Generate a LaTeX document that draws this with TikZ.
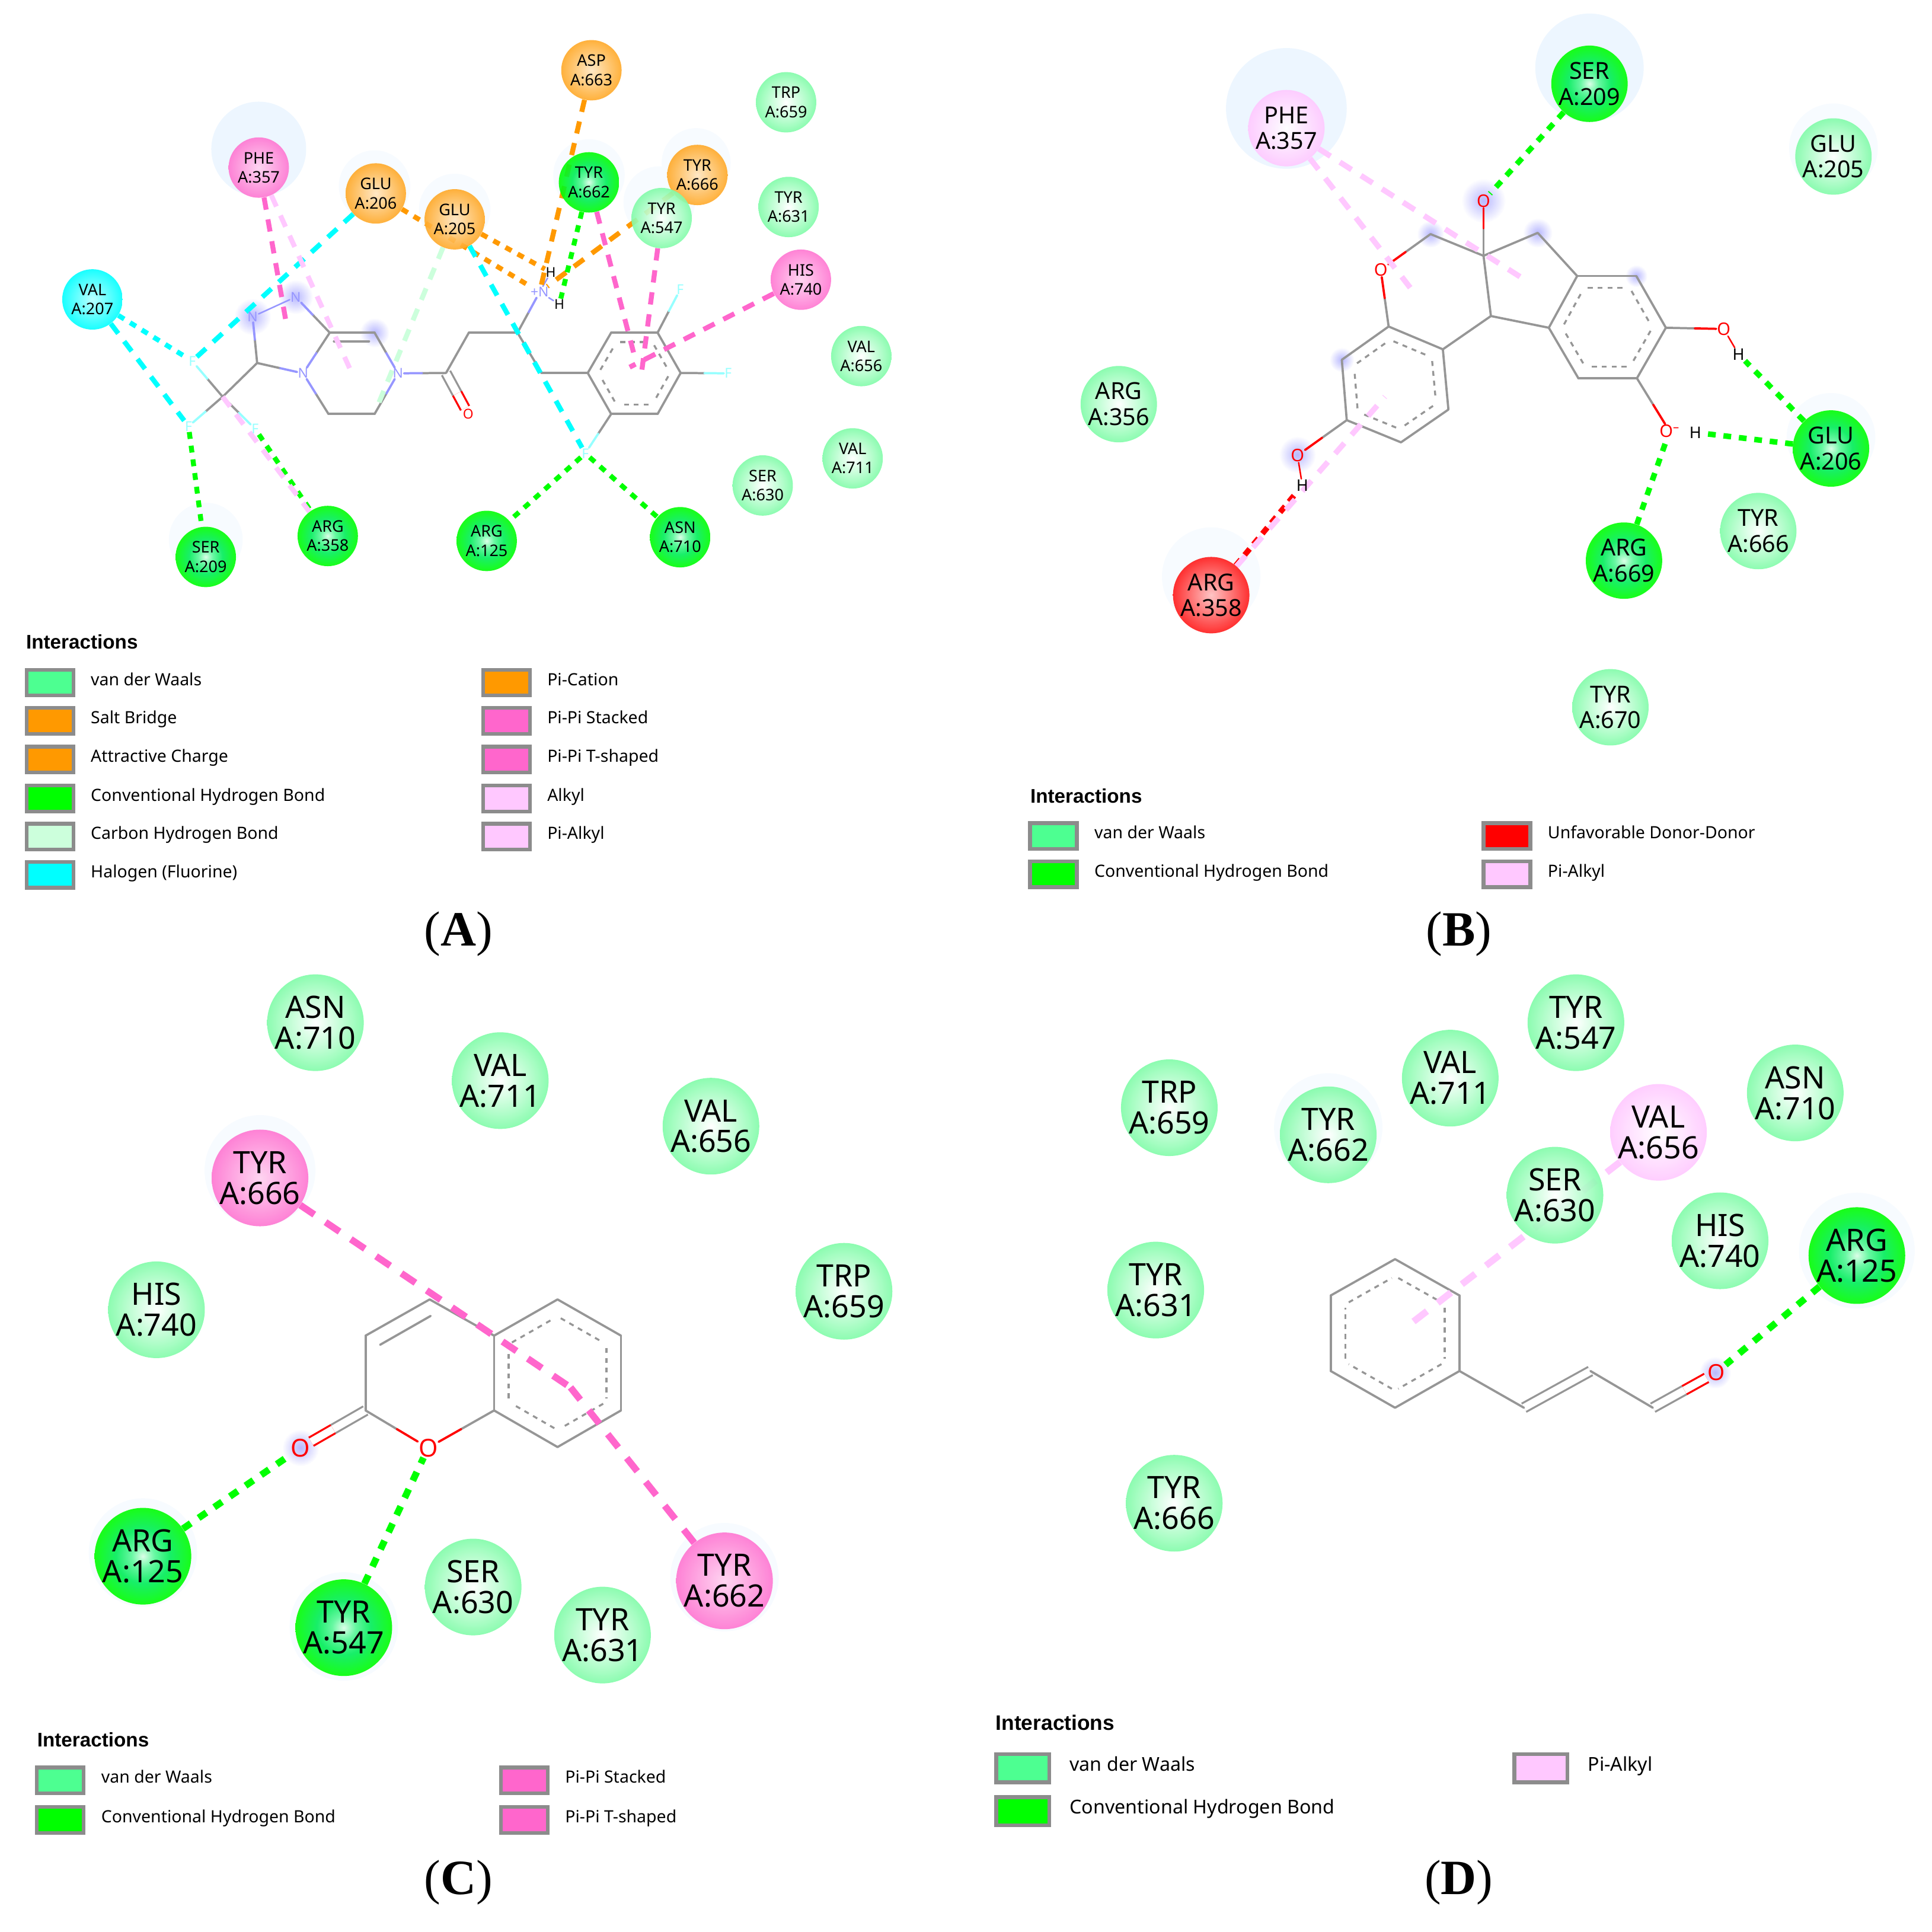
\documentclass[tikz,border=0pt]{standalone}
\usepackage{fontspec}
\setmainfont{Noto Sans}
\newfontfamily\capfont{Liberation Serif}
\newfontfamily\titlefont{Liberation Sans}
\usetikzlibrary{calc,positioning}
\definecolor{vdw_green}{RGB}{128,252,168}
\definecolor{leg_green}{RGB}{77,255,145}
\definecolor{chb_green}{RGB}{204,255,220}
\definecolor{alk_pink}{RGB}{255,200,255}
\definecolor{pi_pink}{RGB}{255,102,204}
\definecolor{sb_orange}{RGB}{255,153,0}
\definecolor{hal_cyan}{RGB}{0,255,255}
\definecolor{n_blue}{RGB}{150,150,255}
\definecolor{f_cyan}{RGB}{150,255,255}
\definecolor{bond_gray}{RGB}{150,150,150}
\pgfdeclareradialshading{green_ball}{\pgfpoint{0bp}{0bp}}{%
  rgb(0bp)=(.85,1,.9); rgb(6bp)=(.35,.97,.6); rgb(14bp)=(0,.93,.35); rgb(25bp)=(0,1,0); rgb(50bp)=(0,1,0)}
\pgfdeclarelayer{back}
\pgfdeclarelayer{lines}
\pgfsetlayers{back,lines,main}

\begin{document}
\begin{tikzpicture}[
      x=1pt,y=-1pt,
      res/.style={
         circle,
         fill opacity=0.9,
         text opacity=1,
         inner sep=0pt,
         align=center},
      resA/.style={res,minimum size=49pt,font=\fontsize{13}{15.5}\selectfont},
      resB/.style={res,minimum size=62pt,font=\fontsize{19}{21}\selectfont},
      resC/.style={res,minimum size=78pt,font=\fontsize{25}{25}\selectfont},
      vdw/.style={inner color=white,outer color=vdw_green},
      green_res/.style={shade,shading=green_ball},
      pink_res/.style={inner color=white!70!pi_pink,outer color=pi_pink!90!white},
      alk_res/.style={inner color=white,outer color=alk_pink},
      orange_res/.style={inner color=white!75!sb_orange,outer color=sb_orange!85!white},
      cyan_res/.style={inner color=white!70!hal_cyan,outer color=hal_cyan},
      red_res/.style={inner color=white!75!red,outer color=red!90!white},
      atom/.style={inner sep=0.5pt,font=\fontsize{#1}{#1}\selectfont},
      halo/.style={circle,fill=blue!50!cyan!7!white},
      haloF/.style={circle,fill=blue!50!cyan!3!white},
      glow/.style={circle,inner color=blue!28!white,outer color=white},
      bond/.style={draw=bond_gray,line width=1.8pt,line cap=round},
      aro/.style={draw=bond_gray,line width=1.6pt,dash pattern=on 4pt off 4pt,
        shorten <=3pt,shorten >=3pt},
      dbl/.style={double=white,double distance=6pt,line width=1.6pt,line cap=butt},
      hb/.style={draw=green,line width=#1pt,dash pattern=on #1*1.4pt off #1*1.4pt},
      unf/.style={draw=red,line width=#1pt,dash pattern=on #1*1.4pt off #1*1.1pt},
      alk/.style={draw=alk_pink,line width=#1pt,dash pattern=on #1*2.5pt off #1*2pt},
      chb/.style={draw=chb_green,line width=#1pt,dash pattern=on #1*2.5pt off #1*2pt},
      pipi/.style={draw=pi_pink,line width=#1pt,dash pattern=on #1*2.5pt off #1*2pt},
      salt/.style={draw=sb_orange,line width=#1pt,dash pattern=on #1*1.4pt off #1*1.4pt},
      picat/.style={draw=sb_orange,line width=#1pt,dash pattern=on #1*2.5pt off #1*2pt},
      hal/.style={draw=hal_cyan,line width=#1pt,dash pattern=on #1*2.5pt off #1*2pt},
      halS/.style={draw=hal_cyan,line width=#1pt,dash pattern=on #1*1.4pt off #1*1.4pt},
      leg_box/.style={rectangle,draw=gray!90,line width=3pt,inner sep=0pt,
        minimum width=38pt,minimum height=21pt},
      leg_boxD/.style={leg_box,minimum width=43pt,minimum height=23pt},
      leg_txt/.style={inner sep=0pt,text height=1.5ex,text depth=.5ex,yshift=0.5pt,
        font=\fontsize{#1}{#1}\selectfont},
      leg_title/.style={anchor=west,inner sep=0pt,font=\titlefont\fontsize{#1}{#1}\selectfont\bfseries},
      caption/.style={font=\fontsize{40}{40}\selectfont\capfont},
      ]
      \useasboundingbox (0,0) rectangle (1568,1568);

      % residues, panel A
      \foreach \n/\r/\x/\y/\s in {%
        663/ASP/480/57/orange_res, 659/TRP/638/83/vdw, 666/TYR/566/142/orange_res,
        662/TYR/478/148/green_res, 357/PHE/210/136/pink_res, 206/GLU/305/157/orange_res,
        205/GLU/369/178/orange_res, 547/TYR/537/177/vdw, 631/TYR/640/168/vdw,
        207/VAL/75/243/cyan_res, 740/HIS/650/227/pink_res, 656/VAL/699/289/vdw,
        711/VAL/692/372/vdw, 630/SER/619/394/vdw, 209/SER/167/452/green_res,
        358/ARG/266/435/green_res, 125/ARG/395/439/green_res, 710/ASN/552/436/green_res}
        \node[resA,\s] (a\n) at (\x,\y) {\r\\A:\n};
      % residues, panel B
      \foreach \n/\r/\x/\y/\s in {%
        357/PHE/1044/104/alk_res, 209/SER/1290/68/green_res, 205/GLU/1488/127/vdw,
        356/ARG/908/328/vdw, 206/GLU/1486/364/green_res, 666/TYR/1427/431/vdw,
        669/ARG/1318/455/green_res, 358/ARG/983/483/red_res, 670/TYR/1307/574/vdw}
        \node[resB,\s] (b\n) at (\x,\y) {\r\\A:\n};
      % residues, panel C
      \foreach \n/\r/\x/\y/\s in {%
        710/ASN/256/830/vdw, 711/VAL/406/877/vdw, 656/VAL/577/914/vdw,
        666/TYR/211/956/pink_res, 659/TRP/685/1048/vdw, 740/HIS/127/1063/vdw,
        125/ARG/116/1263/green_res, 547/TYR/279/1321/green_res, 630/SER/384/1288/vdw,
        631/TYR/489/1327/vdw, 662/TYR/588/1283/pink_res}
        \node[resC,\s] (c\n) at (\x,\y) {\r\\A:\n};
      % residues, panel D
      \foreach \n/\r/\x/\y/\s in {%
        547/TYR/1279/830/vdw, 711/VAL/1177/875/vdw, 659/TRP/949/899/vdw,
        662/TYR/1078/921/vdw, 710/ASN/1457/887/vdw, 656/VAL/1346/919/alk_res,
        630/SER/1262/970/vdw, 740/HIS/1396/1007/vdw, 125/ARG/1507/1019/green_res,
        631/TYR/938/1047/vdw, 666/TYR/953/1220/vdw}
        \node[resC,\s] (d\n) at (\x,\y) {\r\\A:\n};

      % molecule points
      \foreach \n/\x/\y in {%
        aC1/208.7/294.6, aC2/267.6/270, aC3/304/270, aC4/304/336, aC5/266.6/336,
        aC6/180.7/322, aC7/362/302.7, aC8/380.5/270, aC9/420/270, aC10/439.5/302.7,
        aD1/271/277, aD2/299.5/277,
        aR0/515/303, aR1/477/302.7, aR2/496/270, aR3/533.7/270, aR4/552.4/302.7, aR5/533.7/336, aR6/496/336,
        aP1/233/266, aP2/287/306, aP3/307/328, aP4/516/293, aP5/521/300, aP6/511/298,
        bC1/1204/207.6, bC2/1161/190, bC3/1210/256.5, bC4/1248/189,
        bL0/1132/312, bL1/1127/265, bL2/1171/283.5, bL3/1175.5/332.4, bL4/1137/359, bL5/1093/341, bL6/1089/292,
        bR0/1304.5/265.5, bR1/1280/224, bR2/1328/224, bR3/1352/266, bR4/1328.5/307, bR5/1281/307, bR6/1257/266,
        bP1/1239/228, bP2/1148/238, bP3/1124/322,
        cC1/348.7/1054.6, cC2/296.7/1084, cC3/296.7/1144.7, cD1/349.5/1068, cD2/308.5/1091.4,
        cR0/452.5/1114.5, cR1/401/1084, cR2/452.5/1054.6, cR3/504/1084, cR4/504/1144.7, cR5/452.5/1174.4, cR6/401/1144.7,
        cP1/463/1126,
        dR0/1132.2/1082, dR1/1132.2/1021.9, dR2/1184.5/1051.4, dR3/1184.5/1112.7, dR4/1132.2/1142.5, dR5/1080/1112.7, dR6/1080/1051.4,
        dC1/1236.8/1142.5, dC2/1290.8/1112.7, dC3/1341.4/1142.5, dP1/1144/1075}
        \coordinate (\n) at (\x,\y);

      % hetero atoms
      \foreach \n/\x/\y/\t/\c/\f in {%
        aNa/240/241/N/n_blue/11, aNb/205/257/N/n_blue/11, aNc/246/303/N/n_blue/11,
        aNd/323/303/N/n_blue/11, aN/438/237/+N/n_blue/11,
        aFa/156/293/F/f_cyan/11, aFb/153/346/F/f_cyan/11, aFc/207/348/F/f_cyan/11,
        aFd/552/235/F/f_cyan/11, aFe/591/303/F/f_cyan/11, aFf/475/368/F/f_cyan/11,
        aO/380/336/O/red/11, aHa/447/221/H/black/11, aHb/454/247/H/black/11,
        bOa/1204/163/O/red/14, bOb/1120.6/219/O/red/14, bOc/1399/267/O/red/14,
        bOd/1355/350/O\textsuperscript{--}/red/14, bOe/1053/369.6/O/red/14,
        bHa/1411/287.5/H/black/13, bHb/1376/351/H/black/13, bHc/1057/394/H/black/13,
        cOa/244/1175/O/red/20, cOb/347.5/1175/O/red/20,
        dO/1392.7/1114/O/red/18}
        \node[atom=\f,text=\c] (\n) at (\x,\y) {\t};

      % legends
      \node[leg_title=16] (aTitle) at (21,521) {Interactions};
      \node[leg_title=16] (bTitle) at (836,646) {Interactions};
      \node[leg_title=16] (cTitle) at (30,1412) {Interactions};
      \node[leg_title=17] (dTitle) at (808,1398) {Interactions};
      \foreach \n/\x/\y/\c/\t in {%
        a1/40.5/554/leg_green/van der Waals, a2/40.5/585/sb_orange/Salt Bridge,
        a3/40.5/616.5/sb_orange/Attractive Charge, a4/40.5/648/green/Conventional Hydrogen Bond,
        a5/40.5/679/chb_green/Carbon Hydrogen Bond, a6/40.5/710/hal_cyan/Halogen (Fluorine),
        a7/411/554/sb_orange/Pi-Cation, a8/411/585/pi_pink/Pi-Pi Stacked,
        a9/411/616.5/pi_pink/Pi-Pi T-shaped, a10/411/648/alk_pink/Alkyl, a11/411/679/alk_pink/Pi-Alkyl,
        b1/855/678.5/leg_green/van der Waals, b2/855/709.5/green/Conventional Hydrogen Bond,
        b3/1223/678.5/red/Unfavorable Donor-Donor, b4/1223/709.5/alk_pink/Pi-Alkyl,
        c1/49/1445/leg_green/van der Waals, c2/49/1477/green/Conventional Hydrogen Bond,
        c3/425.5/1445/pi_pink/Pi-Pi Stacked, c4/425.5/1477/pi_pink/Pi-Pi T-shaped}
        {\node[leg_box,fill=\c] (box\n) at (\x,\y) {};
         \node[leg_txt=13.7,right=12.5pt of box\n] (txt\n) {\t};}
      \foreach \n/\x/\y/\c/\t in {%
        d1/830/1435/leg_green/van der Waals, d2/830/1470/green/Conventional Hydrogen Bond,
        d3/1250.5/1435/alk_pink/Pi-Alkyl}
        {\node[leg_boxD,fill=\c] (box\n) at (\x,\y) {};
         \node[leg_txt=15.5,right=15pt of box\n] (txt\n) {\t};}

      % captions
      \node[caption] (capA) at (372,758) {(\textbf{A})};
      \node[caption] (capB) at (1184,758) {(\textbf{B})};
      \node[caption] (capC) at (372,1528) {(\textbf{C})};
      \node[caption] (capD) at (1184,1528) {(\textbf{D})};

    \begin{pgfonlayer}{back}
      % pale discs round some residues, blue spots on some atoms
      \foreach \n/\x/\y/\d/\s in {%
        1/210/121/77/halo, 2/304/151/58/haloF, 3/369/170/58/haloF, 4/478/142/58/haloF,
        5/565/132/56/haloF, 6/535/164/58/haloF, 7/167/438/60/haloF,
        8/1044/88/98/halo, 9/1290/55/88/halo, 10/1488/120/72/haloF, 11/1486/355/72/haloF,
        12/983/468/80/haloF, 13/211/950/90/haloF, 14/588/1280/88/haloF,
        15/116/1260/88/haloF, 16/279/1320/88/haloF, 17/1507/1015/94/haloF, 18/1078/915/88/haloF,
        19/240/241/28/glow, 20/205/257/30/glow, 21/304/270/24/glow,
        22/1204/163/36/glow, 23/1161/190/22/glow, 24/1248/189/24/glow, 25/1328/224/18/glow,
        26/1089/292/20/glow, 27/1053/369/30/glow, 28/244/1175/30/glow, 29/1392/1114/26/glow}
        \node[\s,minimum size=\d pt,inner sep=0pt] (spot\n) at (\x,\y) {};

      % double bonds first, they leave a white core
      \foreach \i/\j in {aC7/aO,cC3/cOa,dC3/dO} {
        \draw[bond,dbl] (\i) -- ($(\i)!.5!(\j)$);
        \draw[bond,dbl,draw=red] ($(\i)!.5!(\j)$) -- (\j);
      }
      \draw[bond,dbl] (dC1) -- (dC2);

      \foreach \r in {aR,bR,bL,cR,dR}
        \foreach \i/\j in {1/2,2/3,3/4,4/5,5/6,6/1} {
          \draw[bond] (\r\i) -- (\r\j);
          \draw[aro] ($(\r0)!.77!(\r\i)$) -- ($(\r0)!.77!(\r\j)$);
        }

      \foreach \i/\j in {%
        aC1/aC6, aC2/aC3, aC4/aC5, aC7/aC8, aC8/aC9, aC9/aC10, aC10/aR1, aD1/aD2,
        bC1/bC2, bC1/bC3, bC1/bC4, bC3/bL2, bC3/bR6, bC4/bR1,
        cC1/cC2, cC2/cC3, cC1/cR1, cD1/cD2,
        dR3/dC1, dC2/dC3}
        \draw[bond] (\i) -- (\j);

      % bonds into a hetero atom change colour half way
      \foreach \i/\j/\c in {%
        aC1/aNb/n_blue, aC1/aNc/n_blue, aC2/aNa/n_blue, aC2/aNc/n_blue, aC3/aNd/n_blue,
        aC4/aNd/n_blue, aC5/aNc/n_blue, aC7/aNd/n_blue, aC9/aN/n_blue,
        aC6/aFa/f_cyan, aC6/aFb/f_cyan, aC6/aFc/f_cyan, aR3/aFd/f_cyan, aR4/aFe/f_cyan, aR6/aFf/f_cyan,
        bC1/bOa/red, bC2/bOb/red, bL1/bOb/red, bR3/bOc/red, bR4/bOd/red, bL5/bOe/red,
        cC3/cOb/red, cR6/cOb/red}
        {\draw[bond] (\i) -- ($(\i)!.5!(\j)$);
         \draw[bond,draw=\c] ($(\i)!.5!(\j)$) -- (\j);}

      \draw[bond,draw=n_blue,line width=1.2pt] (aNa) -- (aNb);
      \draw[bond,draw=n_blue,line width=1.2pt] (aN) -- (aHa);
      \draw[bond,draw=n_blue,line width=1.2pt] (aN) -- (aHb);
      \draw[bond,draw=red,line width=1.2pt] (bOc) -- (bHa);
      \draw[bond,draw=red,line width=1.2pt] (bOe) -- (bHc);
    \end{pgfonlayer}

    \begin{pgfonlayer}{lines}
      \foreach \i/\j/\s/\w in {%
        a663/aN/picat/4, a666/aN/picat/4, a662/aHb/hb/4, a206/aN/salt/4, a205/aHa/salt/4,
        a206/aFa/hal/4, a205/aFf/hal/4, a207/aFa/halS/4, a207/aFb/hal/4,
        aFb/a209/hb/4, aFc/a358/hb/4, aFf/a125/hb/4, aFf/a710/hb/4,
        aC6/a358/alk/4, a357/aP1/pipi/4, a357/aP2/alk/4, a205/aP3/chb/4,
        a662/aP4/pipi/4, a547/aP5/pipi/4, a740/aP6/pipi/4,
        b209/bOa/hb/4.5, b206/bHa/hb/4.5, b206/bHb/hb/4.5, b669/bOd/hb/4.5, b358/bHc/unf/4.5,
        b358/bP3/alk/4.5, b357/bP1/alk/4.5, b357/bP2/alk/4.5,
        c666/cP1/pipi/5.5, c662/cP1/pipi/5.5, c125/cOa/hb/5.5, c547/cOb/hb/5.5,
        d656/dP1/alk/5.5, d125/dO/hb/5.5}
        \draw[\s=\w] (\i) -- (\j);
    \end{pgfonlayer}
\end{tikzpicture}
\end{document}
